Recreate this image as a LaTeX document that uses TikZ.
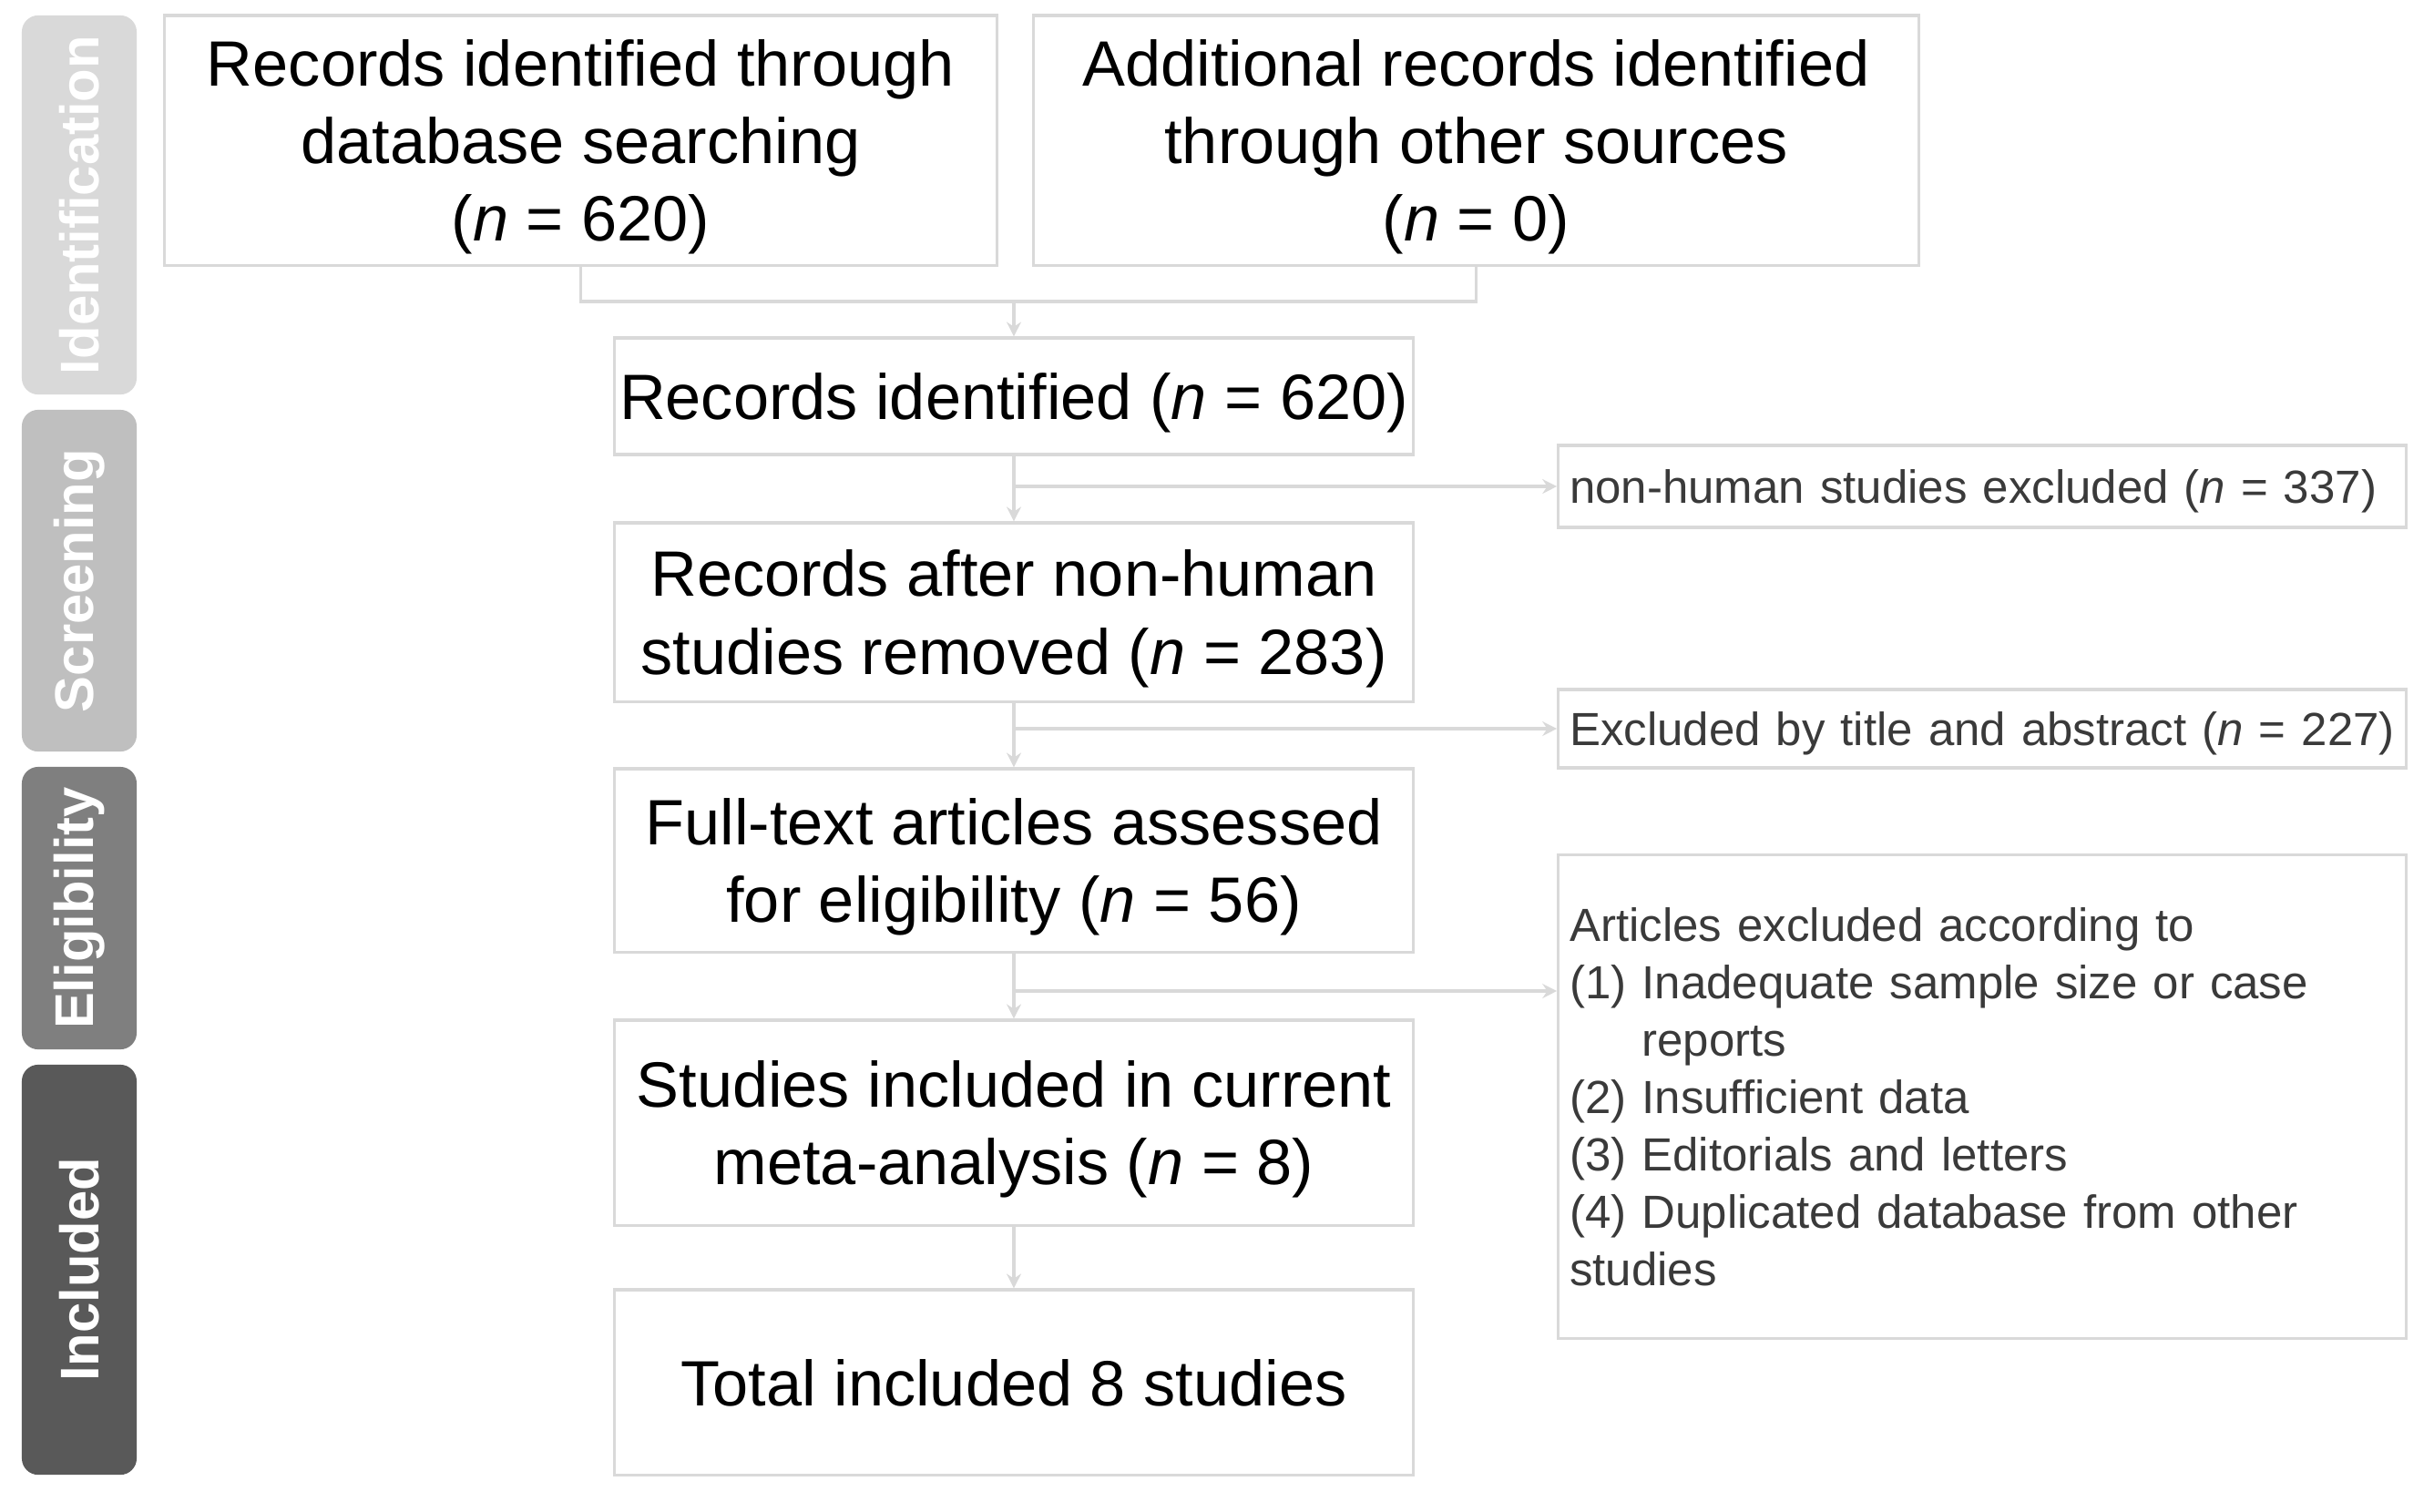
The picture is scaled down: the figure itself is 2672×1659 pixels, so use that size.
\documentclass[tikz,border=0pt]{standalone}
\usepackage{fontspec}
\setmainfont{Liberation Sans}
\usetikzlibrary{arrows.meta}
\definecolor{boxgray}{HTML}{D9D9D9}
\definecolor{scrgray}{HTML}{BFBFBF}
\definecolor{eliggray}{HTML}{7F7F7F}
\definecolor{inclgray}{HTML}{595959}
\definecolor{darktext}{HTML}{3A3A3A}

\begin{document}
\begin{tikzpicture}[x=0.01cm, y=-0.01cm,
		box/.style={draw=boxgray, line width=0.9pt, align=center, inner sep=0pt, text depth=0pt,
			font=\fontsize{20}{24.2}\selectfont, minimum width=8.76cm},
		sidebox/.style={draw=boxgray, line width=0.9pt, align=left, text=darktext,
			inner xsep=0.125cm, inner ysep=0pt, text width=9.05cm,
			font=\fontsize{14.5}{17.9}\selectfont},
		phase/.style={rounded corners=0.18cm, rotate=90, minimum height=1.26cm,
			inner sep=0pt, text=white, font=\bfseries\fontsize{17}{20}\selectfont},
		link/.style={draw=boxgray, line width=0.9pt},
		arr/.style={link, -{Stealth[length=4.5pt,width=4.5pt]}}]
		
		\useasboundingbox (0,0) rectangle (2672,1659);
		
		% phases
		\node [phase, fill=boxgray, minimum width=4.16cm] (phid) at (87,225) {Identification};
		\node [phase, fill=scrgray, minimum width=3.75cm] (phscr) at (87,637.5) {Screening};
		\node [phase, fill=eliggray, minimum width=3.10cm] (phelig) at (87,997) {Eligibility};
		\node [phase, fill=inclgray, minimum width=4.50cm] (phincl) at (87,1394) {Included};
		
		% main column
		\node [box, minimum width=9.13cm, minimum height=2.74cm] (recdb) at (637.5,154)
			{Records identified through\\database searching\\(\textit{n} = 620)};
		\node [box, minimum width=9.71cm, minimum height=2.74cm] (recother) at (1620.5,154)
			{Additional records identified\\through other sources\\(\textit{n} = 0)};
		\node [box, minimum height=1.28cm] (recid) at (1113,435)
			{Records identified (\textit{n} = 620)};
		\node [box, minimum height=1.96cm] (recafter) at (1113,672)
			{Records after non-human\\studies removed (\textit{n} = 283)};
		\node [box, minimum height=2.01cm] (fulltext) at (1113,944.5)
			{Full-text articles assessed\\for eligibility (\textit{n} = 56)};
		\node [box, minimum height=2.25cm] (included) at (1113,1232.5)
			{Studies included in current\\meta-analysis (\textit{n} = 8)};
		\node [box, minimum height=2.03cm] (total) at (1113,1517.5)
			{Total included 8 studies};
		
		% exclusions
		\node [sidebox, text depth=0pt, minimum height=0.90cm] (exclhuman) at (2176,534)
			{non-human studies excluded (\textit{n} = 337)};
		\node [sidebox, text depth=0pt, minimum height=0.86cm] (excltitle) at (2176,800)
			{\mbox{Excluded by title and abstract (\textit{n} = 227)}};
		\node [sidebox, minimum height=5.30cm] (exclarticles) at (2176,1204)
			{Articles excluded according to\\
			(1) Inadequate sample size or case\\
			\phantom{(1) }reports\\
			(2) Insufficient data\\
			(3) Editorials and letters\\
			(4) Duplicated database from other\\
			studies};
		
		\coordinate (join) at (1113,331);
		\coordinate (split) at (1113,1088);
		
		\draw [link] (recdb.south) |- (join) -| (recother.south);
		\draw [arr] (join) -- (recid.north);
		\draw [arr] (recid.south) -- (recafter.north);
		\draw [arr] (recid.south |- exclhuman.west) -- (exclhuman.west);
		\draw [arr] (recafter.south) -- (fulltext.north);
		\draw [arr] (recafter.south |- excltitle.west) -- (excltitle.west);
		\draw [arr] (fulltext.south) -- (included.north);
		\draw [arr] (split) -- (split -| exclarticles.west);
		\draw [arr] (included.south) -- (total.north);
		
\end{tikzpicture}
\end{document}
